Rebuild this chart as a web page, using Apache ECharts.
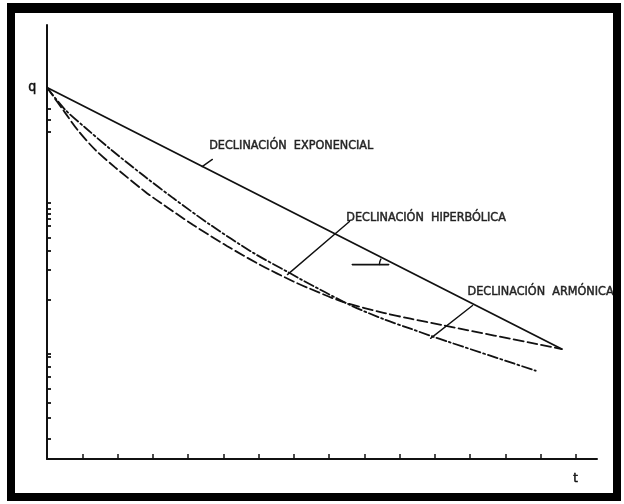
<!DOCTYPE html>
<html>
<head>
<meta charset="utf-8">
<title>Curvas de declinación</title>
<script src="https://cdn.jsdelivr.net/npm/echarts@6/dist/echarts.min.js"></script>
<style>
  html, body { margin: 0; padding: 0; background: #fff; width: 624px; height: 504px; overflow: hidden; }
  #chart { position: absolute; left: 0; top: 0; width: 624px; height: 504px; }
  #frame { position: absolute; left: 7px; top: 3px; width: 598px; height: 480px;
           border: 8px solid #000; border-top-width: 10px; pointer-events: none; }
</style>
</head>
<body>
<div id="chart"></div>
<div id="frame"></div>
<script>
// Time axis (t) and rate axis (q, logarithmic)
const tTicks = [1, 2, 3, 4, 5, 6, 7, 8, 9, 10, 11, 12, 13, 14, 15];
const qTicks = [2.73, 3.77, 4.74, 5.86, 7.04, 8.2, 9.55, 10, 22.8, 36, 48.1, 58.6,
                70.4, 78.3, 84.6, 91.3, 100, 295, 355, 419];

// Exponential decline: straight line on the semi-log plot
const expT = [0, 14.6];
const expQ = [578, 10.7];

// Hyperbolic decline
const hypT = [0, 0.511, 1.08, 1.847, 2.784, 3.58, 4.631, 5.852, 6.818, 7.188, 8.608, 9.545, 10.31, 10.88, 11.36, 13.86];
const hypQ = [578, 413, 314, 221, 148, 107, 71.2, 46.4, 34.8, 31.1, 20.9, 16.9, 14.6, 13.1, 12.0, 7.69];

// Harmonic decline
const harT = [0, 0.511, 0.881, 1.364, 1.932, 2.784, 3.21, 4.148, 5.114, 6.051, 6.989, 7.386, 8.409, 9.545, 10.31, 11.22, 14.6];
const harQ = [578, 394, 300, 224, 171, 118, 100, 71.0, 51.4, 38.6, 30.0, 27.3, 21.9, 18.6, 17.0, 15.4, 10.7];

// Callout leaders and the slope angle mark, in (t, q)
const expLeader = [[4.40, 173], [4.69, 193]];
const hypLeader = [[6.82, 33.3], [8.58, 74.8]];
const harLeader = [[12.07, 20.8], [10.88, 12.6]];
const angleBase = [[8.66, 38.8], [9.69, 38.8]];
const angleArc = [[9.43, 38.8], [9.44, 40.5], [9.47, 42.2]];

// Curve names and where their captions sit (left edge, middle)
const captions = [
  { text: 'DECLINACIÓN  EXPONENCIAL', at: [4.6, 238] },
  { text: 'DECLINACIÓN  HIPERBÓLICA', at: [8.49, 79.6] },
  { text: 'DECLINACIÓN  ARMÓNICA', at: [11.93, 25.7] }
];

const lg = v => Math.log10(v);
const pairs = (ts, qs) => ts.map((t, i) => [t, lg(qs[i])]);
const pts = arr => arr.map(p => [p[0], lg(p[1])]);

const INK = '#111';
const FONT = "'Liberation Sans Narrow', 'DejaVu Sans Condensed', 'Liberation Sans', sans-serif";

function plain(name, data, type, width, smooth) {
  return {
    name, type: 'line', data, symbol: 'none', smooth: smooth || false,
    lineStyle: { color: INK, width: width || 1.7, type: type, cap: 'round' },
    silent: true, z: 3
  };
}

const chart = echarts.init(document.getElementById('chart'), null, { renderer: 'canvas' });
chart.setOption({
  animation: false,
  backgroundColor: '#fff',
  grid: { left: 47, top: 25, width: 550, height: 434, containLabel: false },
  xAxis: {
    type: 'value', min: 0, max: 15.6,
    axisLine: { show: true, lineStyle: { color: INK, width: 2 } },
    axisTick: { show: true, inside: true, length: 5, customValues: tTicks,
                lineStyle: { color: INK, width: 1.5 } },
    axisLabel: { show: false },
    splitLine: { show: false }
  },
  yAxis: {
    type: 'value', min: lg(2), max: lg(1500),
    axisLine: { show: true, lineStyle: { color: INK, width: 2 } },
    axisTick: { show: true, inside: true, length: 4, customValues: qTicks.map(lg),
                lineStyle: { color: INK, width: 1.8 } },
    axisLabel: { show: false },
    splitLine: { show: false }
  },
  graphic: [
    { type: 'text', left: 28, top: 80,
      style: { text: 'q', font: "14px " + FONT, fill: INK, stroke: INK, lineWidth: 0.5 } },
    { type: 'text', left: 573, top: 472,
      style: { text: 't', font: "13px " + FONT, fill: INK, stroke: INK, lineWidth: 0.5 } }
  ],
  series: [
    plain('Exponencial', pairs(expT, expQ), 'solid', 1.8),
    plain('Hiperbólica', pairs(hypT, hypQ), [10, 3, 2, 3], 1.8, 0.3),
    plain('Armónica', pairs(harT, harQ), [10, 4], 1.8, 0.3),
    plain('guia-exp', pts(expLeader), 'solid', 1.4),
    plain('guia-hip', pts(hypLeader), 'solid', 1.4),
    plain('guia-arm', pts(harLeader), 'solid', 1.4),
    plain('angulo', pts(angleBase), 'solid', 1.6),
    plain('arco', pts(angleArc), 'solid', 1.4, 0.5),
    {
      type: 'scatter', symbolSize: 0, silent: true, z: 5,
      data: captions.map(c => ({ value: [c.at[0], lg(c.at[1])], name: c.text })),
      label: {
        show: true, position: 'right', distance: 0,
        formatter: p => p.name,
        color: '#000', fontFamily: FONT, fontSize: 12.5,
        textBorderColor: '#000', textBorderWidth: 0.5
      }
    }
  ]
});
</script>
</body>
</html>
